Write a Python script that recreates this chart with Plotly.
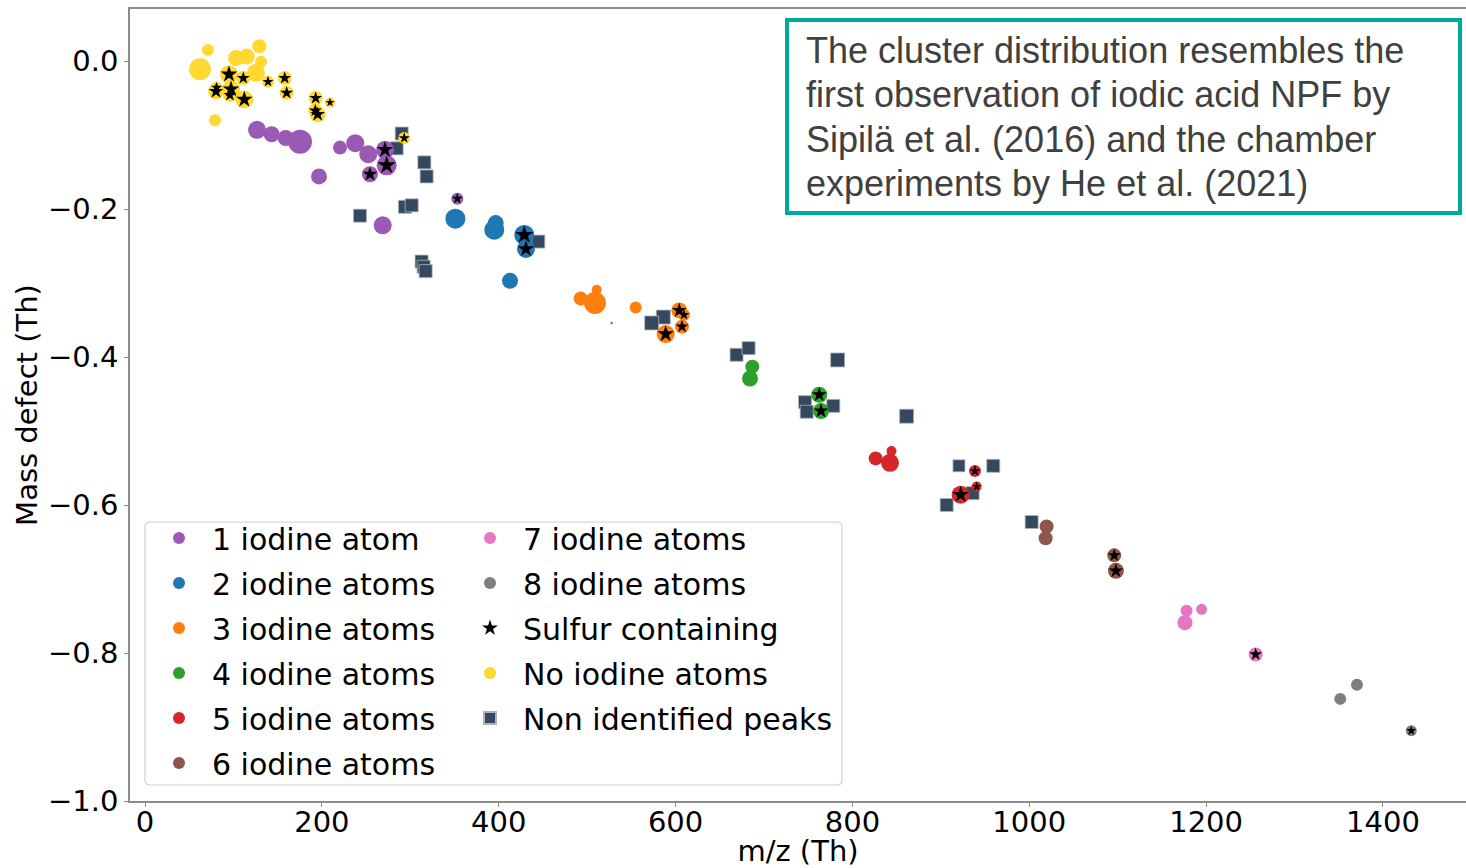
import plotly.graph_objects as go

# ---- peak lists: m/z (Th), mass defect (Th), relative signal, sulfur flag ----
i1_mz = [126.7, 143.2, 159.1, 175.3, 220.5, 237.8, 252.5, 196.8, 268.8, 271.4, 273.3, 254.4, 353.2]
i1_md = [-0.093, -0.099, -0.104, -0.109, -0.117, -0.111, -0.126, -0.156, -0.222, -0.120, -0.141, -0.153, -0.186]
i1_sig = [18, 16, 16, 24, 14, 18, 18, 16, 18, 18, 20, 16, 12]
i1_s = [0, 0, 0, 0, 0, 0, 0, 0, 0, 1, 1, 1, 1]

i2_mz = [351.0, 396.6, 395.0, 412.8, 428.9, 430.8]
i2_md = [-0.213, -0.219, -0.228, -0.297, -0.235, -0.254]
i2_sig = [20, 16, 20, 16, 20, 18]
i2_s = [0, 0, 0, 0, 1, 1]

i3_mz = [492.7, 510.8, 508.9, 554.9, 604.2, 609.5, 607.3, 588.8]
i3_md = [-0.321, -0.309, -0.327, -0.333, -0.337, -0.343, -0.359, -0.369]
i3_sig = [14, 10, 22, 12, 16, 12, 14, 18]
i3_s = [0, 0, 0, 0, 1, 1, 1, 1]

i4_mz = [686.8, 684.2, 762.5, 764.5]
i4_md = [-0.413, -0.429, -0.451, -0.473]
i4_sig = [14, 16, 16, 16]
i4_s = [0, 0, 1, 1]

i5_mz = [826.3, 844.2, 842.5, 938.6, 940.5, 922.4]
i5_md = [-0.537, -0.527, -0.543, -0.554, -0.575, -0.586]
i5_sig = [14, 10, 18, 12, 10, 18]
i5_s = [0, 0, 0, 1, 1, 1]

i6_mz = [1019.6, 1018.5, 1096.1, 1098.0]
i6_md = [-0.629, -0.645, -0.668, -0.689]
i6_sig = [14, 14, 14, 16]
i6_s = [0, 0, 1, 1]

i7_mz = [1177.9, 1194.9, 1176.1, 1256.0]
i7_md = [-0.743, -0.741, -0.759, -0.802]
i7_sig = [12, 11, 15, 14]
i7_s = [0, 0, 0, 1]

i8_mz = [1351.7, 1370.6, 1432.0]
i8_md = [-0.862, -0.843, -0.905]
i8_sig = [12, 12, 11]
i8_s = [0, 0, 1]

i0_mz = [62.2, 71.2, 79.2, 102.9, 115.0, 129.3, 131.2, 125.5,
         95.0, 111.2, 81.0, 80.3, 97.3, 96.1, 112.3, 139.1, 158.0, 160.2,
         193.0, 209.2, 192.6, 195.3, 293.2]
i0_md = [-0.011, 0.015, -0.080, 0.004, 0.006, 0.020, -0.001, -0.016,
         -0.018, -0.023, -0.036, -0.041, -0.038, -0.046, -0.052, -0.028, -0.023, -0.043,
         -0.050, -0.056, -0.067, -0.072, -0.104]
i0_sig = [22, 12, 12, 16, 16, 14, 12, 18,
          18, 14, 12, 16, 18, 14, 18, 12, 14, 14,
          14, 10, 14, 16, 12]
i0_s = [0, 0, 0, 0, 0, 0, 0, 0,
        1, 1, 1, 1, 1, 1, 1, 1, 1, 1,
        1, 1, 1, 1, 1]

unk_mz = [290.3, 284.6, 315.9, 318.5, 243.1, 294.0, 301.6, 312.8, 315.1, 317.4,
          444.8, 527.8, 586.1, 573.0, 669.0, 682.6, 783.3, 746.4, 748.3, 778.4,
          861.3, 920.5, 959.3, 906.6, 936.0, 1002.7]
unk_md = [-0.098, -0.118, -0.137, -0.156, -0.209, -0.197, -0.195, -0.271, -0.278, -0.284,
          -0.244, -0.354, -0.346, -0.354, -0.397, -0.388, -0.404, -0.461, -0.474, -0.466,
          -0.480, -0.547, -0.547, -0.600, -0.584, -0.623]
unk_sig = [13, 13, 13, 13, 13, 13, 13, 13, 13, 13,
           13, 2, 14, 14, 13, 13, 14, 13, 13, 13,
           14, 12, 13, 13, 13, 13]

x_ticks = [0, 200, 400, 600, 800, 1000, 1200, 1400]
y_ticks = [0.0, -0.2, -0.4, -0.6, -0.8, -1.0]

groups = [
    ("1 iodine atom", "#9b59b6", i1_mz, i1_md, i1_sig, i1_s, "legend", 1),
    ("2 iodine atoms", "#1f77b4", i2_mz, i2_md, i2_sig, i2_s, "legend", 2),
    ("3 iodine atoms", "#ff7f0e", i3_mz, i3_md, i3_sig, i3_s, "legend", 3),
    ("4 iodine atoms", "#2ca02c", i4_mz, i4_md, i4_sig, i4_s, "legend", 4),
    ("5 iodine atoms", "#d62728", i5_mz, i5_md, i5_sig, i5_s, "legend", 5),
    ("6 iodine atoms", "#8c564b", i6_mz, i6_md, i6_sig, i6_s, "legend", 6),
    ("7 iodine atoms", "#e377c2", i7_mz, i7_md, i7_sig, i7_s, "legend2", 1),
    ("8 iodine atoms", "#7f7f7f", i8_mz, i8_md, i8_sig, i8_s, "legend2", 2),
    ("No iodine atoms", "#ffd92f", i0_mz, i0_md, i0_sig, i0_s, "legend2", 4),
]

# ---- figure geometry (pixels) ----
W, H = 1466, 868
L, R, T, B = 130, 0, 9, 67
PW, PH = W - L - R, H - T - B


def px_x(p):
    return (p - L) / PW


def px_y(p):
    return (H - B - p) / PH


FONT = "DejaVu Sans"
fig = go.Figure()

# unidentified peaks sit underneath everything else
fig.add_trace(go.Scatter(
    x=unk_mz, y=unk_md, mode="markers", name="Non identified peaks",
    marker=dict(symbol="square", size=unk_sig, color="#34495e", opacity=1,
                line=dict(width=0.8, color="#aab4be")),
    legend="legend2", legendrank=5, legendgroup="unk",
))

for name, color, mz, md, sig, _s, leg, rank in groups:
    fig.add_trace(go.Scatter(
        x=mz, y=md, mode="markers", name=name,
        marker=dict(symbol="circle", size=sig, color=color, opacity=1, line=dict(width=0)),
        legend=leg, legendrank=rank, legendgroup=name,
    ))

# black stars on top of the sulfur-bearing clusters
s_x, s_y, s_sz = [], [], []
for _n, _c, mz, md, sig, sflag, _l, _r in groups:
    for xv, yv, sv, f in zip(mz, md, sig, sflag):
        if f:
            s_x.append(xv)
            s_y.append(yv)
            s_sz.append(sv * 0.7)
fig.add_trace(go.Scatter(
    x=s_x, y=s_y, mode="markers", name="Sulfur containing",
    marker=dict(symbol="star", size=s_sz, color="black", opacity=1, line=dict(width=0)),
    legend="legend2", legendrank=3, legendgroup="sulfur",
))


def rounded_box(x0, y0, x1, y1, r):
    # path in paper units with small rounded corners (pixel inputs)
    pts = [
        f"M {px_x(x0 + r)},{px_y(y0)}",
        f"L {px_x(x1 - r)},{px_y(y0)}",
        f"Q {px_x(x1)},{px_y(y0)} {px_x(x1)},{px_y(y0 + r)}",
        f"L {px_x(x1)},{px_y(y1 - r)}",
        f"Q {px_x(x1)},{px_y(y1)} {px_x(x1 - r)},{px_y(y1)}",
        f"L {px_x(x0 + r)},{px_y(y1)}",
        f"Q {px_x(x0)},{px_y(y1)} {px_x(x0)},{px_y(y1 - r)}",
        f"L {px_x(x0)},{px_y(y0 + r)}",
        f"Q {px_x(x0)},{px_y(y0)} {px_x(x0 + r)},{px_y(y0)}",
        "Z",
    ]
    return " ".join(pts)


shapes = [
    dict(type="path", xref="paper", yref="paper",
         path=rounded_box(145, 522, 842, 785, 5),
         line=dict(color="#d0d0d0", width=1.2),
         fillcolor="rgba(255,255,255,0.8)", layer="above"),
    dict(type="rect", xref="paper", yref="paper",
         x0=px_x(787), x1=px_x(1460), y0=px_y(213), y1=px_y(20),
         line=dict(color="#00a99d", width=4), fillcolor="white", layer="above"),
]

note_lines = [
    "The cluster distribution resembles the",
    "first observation of iodic acid NPF by",
    "Sipilä et al. (2016) and the chamber",
    "experiments by He et al. (2021)",
]
note_centers = [51, 95, 139, 183]
annotations = [
    dict(text=t, xref="paper", yref="paper", x=px_x(805), y=px_y(c),
         xanchor="left", yanchor="middle", showarrow=False, borderpad=0,
         font=dict(family="Liberation Sans, Arial", size=36, color="#404040"))
    for t, c in zip(note_lines, note_centers)
]

legend_common = dict(
    bgcolor="rgba(0,0,0,0)", borderwidth=0,
    font=dict(family=FONT, size=30, color="black"),
    itemsizing="constant", itemwidth=56, tracegroupgap=3,
    xanchor="left", yanchor="top", orientation="v",
)

fig.update_layout(
    width=W, height=H,
    margin=dict(l=L, r=R, t=T, b=B, autoexpand=False),
    paper_bgcolor="white", plot_bgcolor="white",
    font=dict(family=FONT, size=29, color="black"),
    showlegend=True,
    legend=dict(x=px_x(146), y=px_y(512), **legend_common),
    legend2=dict(x=px_x(457), y=px_y(512), **legend_common),
    shapes=shapes,
    annotations=annotations,
    xaxis=dict(
        range=[-16.96, 1493.9], tickvals=x_ticks, ticktext=[str(v) for v in x_ticks],
        showgrid=False, zeroline=False, showline=True, mirror=True,
        linecolor="#8c8c8c", linewidth=1.5,
        ticks="outside", ticklen=4, tickwidth=1, tickcolor="#8c8c8c",
        tickfont=dict(family=FONT, size=29, color="black"),
        ticklabelstandoff=-10,
        title=dict(text="m/z (Th)", font=dict(family=FONT, size=29, color="black"), standoff=2),
        automargin=False,
    ),
    yaxis=dict(
        range=[-1.0, 0.0703], tickvals=y_ticks, tickformat=".1f",
        showgrid=False, zeroline=False, showline=True, mirror=False,
        linecolor="#8c8c8c", linewidth=1.5,
        ticks="outside", ticklen=4, tickwidth=1, tickcolor="#8c8c8c",
        tickfont=dict(family=FONT, size=29, color="black"),
        title=dict(text="Mass defect (Th)", font=dict(family=FONT, size=29, color="black"), standoff=2),
        automargin=False,
    ),
)

fig.write_html("out.html")
